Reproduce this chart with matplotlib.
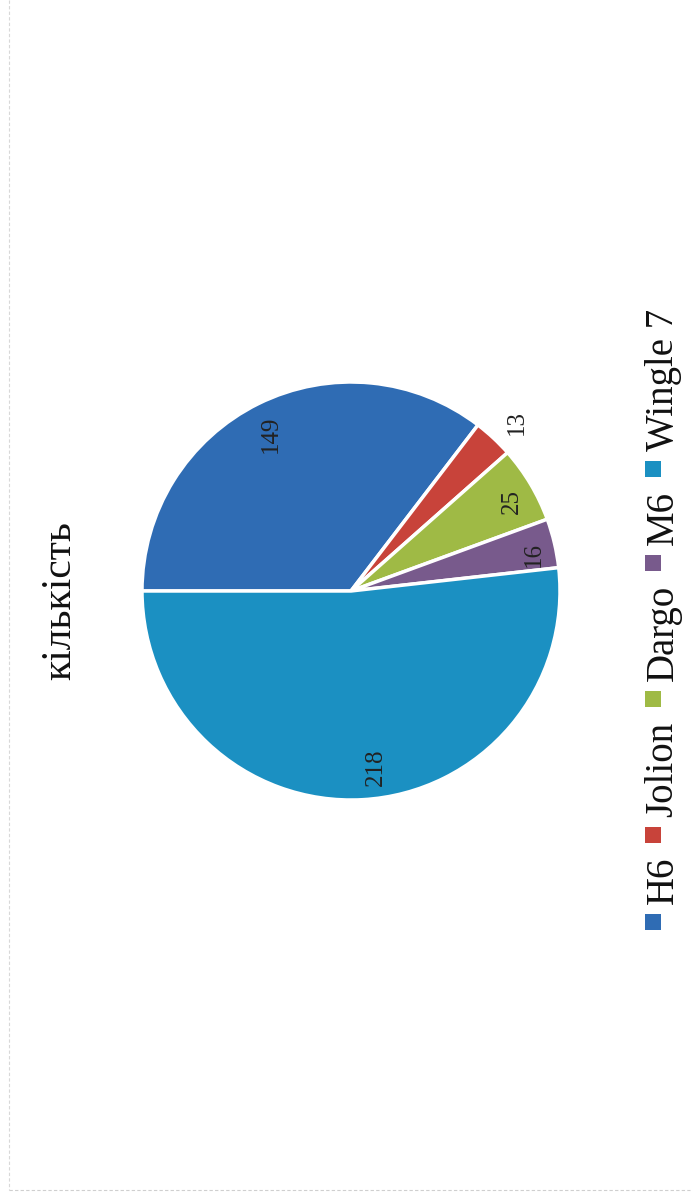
import numpy as np
import matplotlib.pyplot as plt
from matplotlib.patches import Rectangle

# data (chart is scanned rotated 90 degrees counter-clockwise)
labels = ['H6', 'Jolion', 'Dargo', 'M6', 'Wingle 7']
values = [149, 13, 25, 16, 218]
colors = ['#2f6cb4', '#c8433a', '#9fba45', '#785a8c', '#1b90c2']
title = 'кількість'

W, H = 696, 1201
plt.rcParams['font.family'] = ['Liberation Serif', 'DejaVu Serif']

fig = plt.figure(figsize=(W / 100, H / 100), dpi=100)

# pie placed in pixel coordinates
cx, cy, R = 351, 591, 209
ax = fig.add_axes([(cx - R) / W, (H - cy - R) / H, 2 * R / W, 2 * R / H])
wedges, _ = ax.pie(values, colors=colors, startangle=180, counterclock=False,
                   wedgeprops=dict(edgecolor='white', linewidth=2.5))
ax.set_xlim(-1, 1)
ax.set_ylim(-1, 1)
ax.set_aspect('equal')
ax.axis('off')

# data labels, rotated with the chart
label_r = [0.84, 1.13, 0.88, 0.89, 0.85]
label_shift = [0.7, -1.5, -1.6, -1.9, 4.9]
for w, v, r, s in zip(wedges, values, label_r, label_shift):
    ang = np.deg2rad((w.theta1 + w.theta2) / 2 + s)
    ax.text(r * np.cos(ang), r * np.sin(ang), str(v), rotation=90,
            ha='center', va='center', fontsize=18, color='#222222',
            rotation_mode='anchor', clip_on=False)

# overlay in pixel coords for title, legend and frame
ov = fig.add_axes([0, 0, 1, 1], zorder=-1)
ov.set_xlim(0, W)
ov.set_ylim(H, 0)
ov.axis('off')

ov.text(60, 601, title, rotation=90, ha='center', va='center',
        rotation_mode='anchor', fontsize=30, color='#111111')

# legend laid out bottom-to-top
fig.canvas.draw()
rend = fig.canvas.get_renderer()
y = 930
mx = 653
for lab, col in zip(labels, colors):
    ov.add_patch(Rectangle((mx - 8, y - 16), 16, 16, facecolor=col,
                           edgecolor='none'))
    y -= 16 + 10
    t = ov.text(mx + 10, y, lab, rotation=90, ha='left', va='center',
                rotation_mode='anchor', fontsize=28, color='#111111')
    bb = t.get_window_extent(rend)
    y -= bb.height + 14

# faint scanned frame
ov.plot([9, 9], [0, 1190], color='#d8d8d8', lw=0.8, ls=(0, (3, 2)))
ov.plot([9, 690], [1190, 1190], color='#cfcfcf', lw=0.8, ls=(0, (3, 2)))

fig.savefig('out.png', dpi=100)
